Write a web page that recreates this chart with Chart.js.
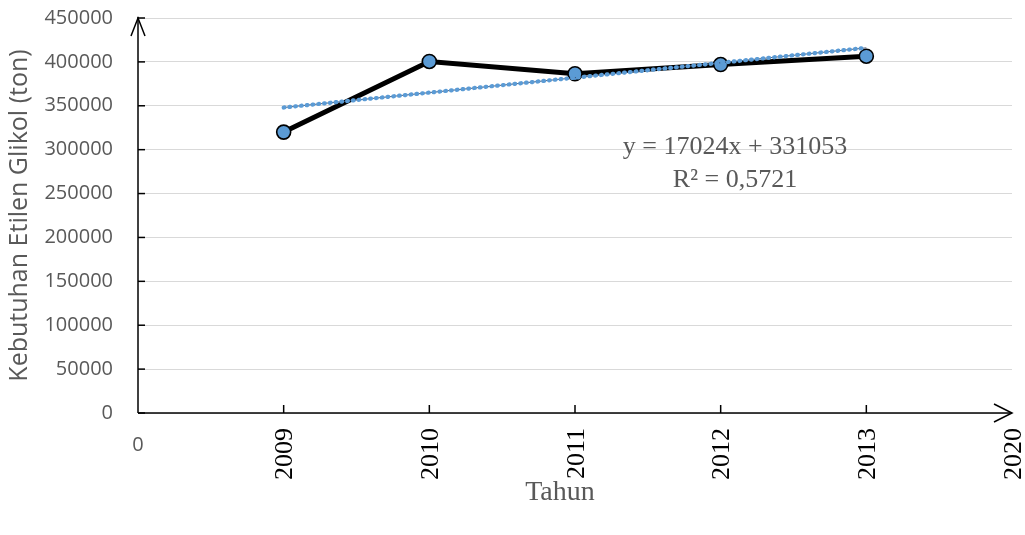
<!DOCTYPE html>
<html>
<head>
<meta charset="utf-8">
<script src="https://cdn.jsdelivr.net/npm/chart.js@4/dist/chart.umd.min.js"></script>
<style>
    html, body { margin: 0; padding: 0; background: #ffffff; }
    #wrap { width: 1025px; height: 535px; }
</style>
</head>
<body>
<div id="wrap"><canvas id="chart"></canvas></div>
<script>
// categories along the x axis (evenly spaced)
const xLabels = ['0', '2009', '2010', '2011', '2012', '2013', '2020'];
// yearly demand (ton) for 2009..2013
const years = ['2009', '2010', '2011', '2012', '2013'];
const demand = [320000, 400500, 386500, 397000, 406500];
// linear trendline ends
const trendYears = ['2009', '2013'];
const trendValues = [348000, 416000];
const yTicks = [0, 50000, 100000, 150000, 200000, 250000, 300000, 350000, 400000, 450000];
const equationText = ['y = 17024x + 331053', 'R² = 0,5721'];

const colors = {
    text: '#595959',
    grid: '#d9d9d9',
    marker: '#5b9bd5',
    axis: '#000000',
};

const toPoints = (cats, vals) => cats.map((c, i) => ({ x: xLabels.indexOf(c), y: vals[i] }));

const axesPlugin = {
    id: 'excelAxes',
    afterDatasetsDraw(chart) {
        const { ctx, chartArea } = chart;
        const xs = chart.scales.x;
        const ys = chart.scales.y;
        const left = chartArea.left;
        const bottom = chartArea.bottom;
        const right = chartArea.right;
        const top = chartArea.top;

        ctx.save();
        ctx.strokeStyle = colors.axis;
        ctx.lineWidth = 1.5;
        ctx.lineCap = 'butt';

        // y axis with arrow
        ctx.beginPath();
        ctx.moveTo(left, bottom);
        ctx.lineTo(left, top - 1);
        ctx.stroke();
        ctx.beginPath();
        ctx.moveTo(left - 7, top + 18);
        ctx.lineTo(left, top);
        ctx.lineTo(left + 7, top + 18);
        ctx.stroke();

        // y tick marks (inside)
        yTicks.forEach((v) => {
            const py = ys.getPixelForValue(v);
            ctx.beginPath();
            ctx.moveTo(left, py);
            ctx.lineTo(left + 7, py);
            ctx.stroke();
        });

        // x axis with arrow
        ctx.beginPath();
        ctx.moveTo(left, bottom);
        ctx.lineTo(right, bottom);
        ctx.stroke();
        ctx.beginPath();
        ctx.moveTo(right - 18, bottom - 9);
        ctx.lineTo(right, bottom);
        ctx.lineTo(right - 18, bottom + 9);
        ctx.stroke();

        // x tick marks (upward)
        xLabels.forEach((lab, i) => {
            if (i === 0 || i === xLabels.length - 1) return;
            const px = xs.getPixelForValue(i);
            ctx.beginPath();
            ctx.moveTo(px, bottom);
            ctx.lineTo(px, bottom - 8);
            ctx.stroke();
        });

        // x labels
        xLabels.forEach((lab, i) => {
            const px = xs.getPixelForValue(i);
            if (i === 0) {
                ctx.fillStyle = colors.text;
                ctx.font = '20px "Open Sans", sans-serif';
                ctx.textAlign = 'center';
                ctx.textBaseline = 'middle';
                ctx.fillText(lab, px, bottom + 32);
                return;
            }
            ctx.save();
            ctx.translate(px + 2, bottom + 15);
            ctx.rotate(-Math.PI / 2);
            ctx.fillStyle = '#000000';
            ctx.font = '26px "Liberation Serif", "Times New Roman", serif';
            ctx.textAlign = 'right';
            ctx.textBaseline = 'middle';
            ctx.fillText(lab, 0, 0);
            ctx.restore();
        });

        // x title
        ctx.fillStyle = colors.text;
        ctx.font = '28px "Liberation Serif", "Times New Roman", serif';
        ctx.textAlign = 'center';
        ctx.textBaseline = 'middle';
        ctx.fillText('Tahun', 560, bottom + 80);

        // trendline equation
        ctx.font = '26px "Liberation Serif", "Times New Roman", serif';
        ctx.fillText(equationText[0], 735, 147);
        ctx.fillText(equationText[1], 735, 180);

        ctx.restore();
    },
};

new Chart(document.getElementById('chart'), {
    type: 'line',
    data: {
        datasets: [
            {
                label: 'Linear (trend)',
                data: toPoints(trendYears, trendValues),
                borderColor: colors.marker,
                borderWidth: 4.2,
                borderDash: [0.8, 5],
                borderCapStyle: 'round',
                pointRadius: 0,
                order: 0,
            },
            {
                label: 'trend core',
                data: toPoints(trendYears, trendValues),
                borderColor: '#3a4a66',
                borderWidth: 0.9,
                pointRadius: 0,
                order: 1,
            },
            {
                label: 'Kebutuhan',
                data: toPoints(years, demand),
                borderColor: '#000000',
                borderWidth: 5,
                pointRadius: 7,
                pointBackgroundColor: colors.marker,
                pointBorderColor: '#000000',
                pointBorderWidth: 1.6,
                tension: 0,
                order: 2,
            },
        ],
    },
    options: {
        responsive: true,
        maintainAspectRatio: false,
        animation: false,
        layout: { padding: { top: 18, right: 13, bottom: 122, left: 0 } },
        plugins: {
            legend: { display: false },
            tooltip: { enabled: false },
        },
        scales: {
            x: {
                type: 'linear',
                display: false,
                min: 0,
                max: xLabels.length - 1,
            },
            y: {
                min: 0,
                max: 450000,
                afterFit(scale) {
                    scale.width = 138;
                    scale.paddingTop = 0;
                    scale.paddingBottom = 0;
                },
                afterBuildTicks(scale) { scale.ticks = yTicks.map((v) => ({ value: v })); },
                grid: { color: colors.grid, lineWidth: 1, drawTicks: false },
                border: { display: false },
                ticks: {
                    color: colors.text,
                    font: { family: '"Open Sans", sans-serif', size: 20 },
                    padding: 25,
                    callback: (v) => String(v),
                },
                title: {
                    display: true,
                    text: 'Kebutuhan Etilen Glikol (ton)',
                    color: colors.text,
                    font: { family: '"Open Sans", sans-serif', size: 25 },
                    padding: { top: 5, bottom: 0 },
                },
            },
        },
    },
    plugins: [axesPlugin],
});
</script>
</body>
</html>
